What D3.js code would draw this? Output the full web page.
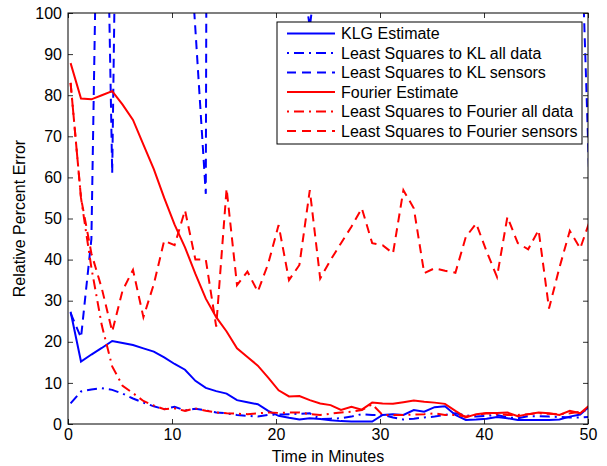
<!DOCTYPE html>
<html>
<head>
<meta charset="utf-8">
<script src="https://cdn.jsdelivr.net/npm/d3@7"></script>
<style>
  body { margin: 0; background: #fff; }
  text { font-family: "Liberation Sans", Arial, sans-serif; }
</style>
</head>
<body>
<div id="canvas"></div>
<script>
"use strict"
let svgWidth = 607;
let svgHeight = 466;

let marginLeft = 68;
let marginRight = 17;
let marginTop = 13;
let marginBottom = 42;

let fontSize = 16;

// sample times (minutes)
let times = [0.25, 1.25, 2.25, 3.25, 4.25, 5.25, 6.25, 7.25, 8.25, 9.25,
    10.25, 11.25, 12.25, 13.25, 14.25, 15.25, 16.25, 17.25, 18.25, 19.25,
    20.25, 21.25, 22.25, 23.25, 24.25, 25.25, 26.25, 27.25, 28.25, 29.25,
    30.25, 31.25, 32.25, 33.25, 34.25, 35.25, 36.25, 37.25, 38.25, 39.25,
    40.25, 41.25, 42.25, 43.25, 44.25, 45.25, 46.25, 47.25, 48.25, 49.25, 50.25];

let klgEstimate = [27.3, 15.2, 16.9, 18.5, 20.2, 19.7, 19.2, 18.4, 17.6, 16.2,
    14.6, 13.2, 10.5, 8.8, 8.0, 7.4, 5.8, 5.3, 4.8, 3.2,
    2.0, 1.5, 1.1, 1.4, 1.2, 0.9, 0.7, 0.6, 0.6, 0.6,
    2.2, 2.4, 2.2, 3.4, 3.0, 4.1, 4.3, 2.2, 1.0, 1.1,
    1.3, 1.7, 1.4, 1.0, 1.0, 1.0, 1.0, 1.1, 1.8, 2.3, 4.5];

let lsKLAll = [5.0, 7.9, 8.4, 8.7, 8.3, 7.4, 6.2, 5.2, 4.3, 3.6,
    4.2, 3.3, 3.7, 3.3, 2.8, 2.6, 2.2, 2.0, 1.8, 2.2,
    2.3, 2.4, 2.5, 2.6, 1.2, 1.3, 1.4, 1.8, 2.4, 2.2,
    2.2, 1.6, 1.1, 1.3, 1.6, 1.8, 2.2, 2.6, 2.1, 1.8,
    2.0, 2.2, 1.6, 1.4, 1.9, 1.9, 1.8, 1.7, 1.6, 1.6, 1.7];

let lsKLSensors = [27.0, 21.0, 45.0, 200, 61.0, 250, 400, 350, 300, 280,
    200, 135, 96.0, 56.0, 1000, 400, 300, 250, 200, 180,
    160, 140, 115, 96.5, 118, 160, 200, 250, 220, 200,
    180, 220, 250, 300, 260, 240, 220, 200, 210, 230,
    250, 240, 220, 200, 190, 180, 170, 160, 150, 128, 50.0];

let fourierEstimate = [87.8, 79.2, 79.0, 80.0, 81.0, 77.7, 74.0, 68.0, 62.0, 55.0,
    48.5, 43.0, 36.5, 30.5, 26.0, 22.5, 18.4, 16.3, 14.2, 11.3,
    8.2, 6.7, 6.8, 5.8, 5.0, 4.6, 3.4, 4.2, 3.5, 5.2,
    5.0, 4.9, 5.3, 5.7, 5.4, 5.2, 4.9, 3.2, 1.6, 2.4,
    2.7, 2.7, 2.8, 1.9, 2.4, 2.8, 2.6, 2.2, 3.2, 2.6, 4.8];

let lsFourierAll = [83.0, 55.0, 38.0, 24.0, 14.0, 9.3, 7.5, 5.6, 4.5, 3.6,
    3.8, 3.2, 3.8, 3.2, 2.8, 2.6, 2.5, 2.4, 2.6, 2.8,
    2.7, 2.8, 2.8, 2.4, 2.2, 2.5, 2.8, 3.0, 3.4, 4.8,
    2.2, 2.2, 2.2, 2.3, 2.4, 2.6, 2.2, 2.2, 1.8, 2.2,
    2.6, 2.4, 2.2, 2.2, 2.4, 2.6, 2.5, 2.4, 2.6, 3.0, 3.5];

let lsFourierSensors = [83.0, 55.0, 41.5, 33.0, 22.5, 32.5, 37.5, 26.0, 34.0, 44.6,
    43.5, 52.0, 40.0, 40.0, 23.7, 57.3, 33.8, 37.1, 32.2, 39.0,
    48.4, 35.0, 38.7, 56.9, 35.4, 39.9, 44.0, 48.0, 52.5, 44.0,
    43.5, 41.5, 56.9, 52.5, 36.7, 37.9, 37.3, 36.8, 45.5, 48.8,
    42.0, 35.8, 50.4, 44.0, 42.5, 47.2, 28.1, 38.0, 47.0, 42.7, 50.0];

let xTicks = [0, 10, 20, 30, 40, 50];
let yTicks = [0, 10, 20, 30, 40, 50, 60, 70, 80, 90, 100];

let seriesNames = ["KLG Estimate", "Least Squares to KL all data", "Least Squares to KL sensors",
    "Fourier Estimate", "Least Squares to Fourier all data", "Least Squares to Fourier sensors"];
let seriesValues = [klgEstimate, lsKLAll, lsKLSensors, fourierEstimate, lsFourierAll, lsFourierSensors];
let seriesColors = ["#0000ff", "#0000ff", "#0000ff", "#ff0000", "#ff0000", "#ff0000"];
let seriesDashes = [null, "10,5,2,5", "9,6", null, "10,5,2,5", "9,6"];

let svg = d3.select("#canvas")
    .append("svg")
    .attr("width", svgWidth)
    .attr("height", svgHeight);

let plotRight = svgWidth - marginRight - 2;
let plotBottom = svgHeight - marginBottom;

let xScale = d3.scaleLinear()
    .domain([0, 50])
    .range([marginLeft, plotRight]);
let yScale = d3.scaleLinear()
    .domain([0, 100])
    .range([plotBottom, marginTop]);

// clip lines to the axes box, like matlab does
svg.append("clipPath")
    .attr("id", "plotClip")
    .append("rect")
    .attr("x", marginLeft)
    .attr("y", marginTop)
    .attr("width", plotRight - marginLeft)
    .attr("height", plotBottom - marginTop);

let lineGen = d3.line()
    .x(function(d) { return xScale(d.t); })
    .y(function(d) { return yScale(d.v); });

let lineGroup = svg.append("g").attr("clip-path", "url(#plotClip)");

for (let i = 0; i < seriesValues.length; i++) {
    let pts = times.map(function(t, j) { return {t: t, v: seriesValues[i][j]}; });
    lineGroup.append("path")
        .datum(pts)
        .attr("d", lineGen)
        .attr("fill", "none")
        .attr("stroke", seriesColors[i])
        .attr("stroke-width", 2)
        .attr("stroke-dasharray", seriesDashes[i]);
}

// axes with inward ticks
let xAxis = svg.append("g")
    .attr("transform", "translate(0," + plotBottom + ")")
    .call(d3.axisBottom(xScale).tickValues(xTicks).tickSize(-5).tickPadding(5));
let xAxisTop = svg.append("g")
    .attr("transform", "translate(0," + marginTop + ")")
    .call(d3.axisTop(xScale).tickValues(xTicks).tickSize(-5).tickFormat(""));
let yAxis = svg.append("g")
    .attr("transform", "translate(" + marginLeft + ",0)")
    .call(d3.axisLeft(yScale).tickValues(yTicks).tickSize(-5).tickPadding(6));
let yAxisRight = svg.append("g")
    .attr("transform", "translate(" + plotRight + ",0)")
    .call(d3.axisRight(yScale).tickValues(yTicks).tickSize(-5).tickFormat(""));

svg.selectAll(".domain").remove();
svg.selectAll(".tick line").attr("stroke", "#333");
svg.selectAll(".tick text")
    .attr("font-size", fontSize)
    .attr("font-family", "Liberation Sans, Arial, sans-serif")
    .attr("fill", "#000");

// box around the plot
svg.append("rect")
    .attr("x", marginLeft)
    .attr("y", marginTop)
    .attr("width", plotRight - marginLeft)
    .attr("height", plotBottom - marginTop)
    .attr("fill", "none")
    .attr("stroke", "black")
    .attr("stroke-width", 1);

// axis labels
svg.append("text")
    .attr("x", (marginLeft + plotRight) / 2)
    .attr("y", svgHeight - 4)
    .attr("text-anchor", "middle")
    .attr("font-size", fontSize)
    .text("Time in Minutes");

svg.append("text")
    .attr("transform", "rotate(-90)")
    .attr("x", -(marginTop + plotBottom) / 2)
    .attr("y", 25)
    .attr("text-anchor", "middle")
    .attr("font-size", fontSize)
    .text("Relative Percent Error");

// legend
let legendX = 277;
let legendY = 22;
svg.append("rect")
    .attr("x", legendX)
    .attr("y", legendY)
    .attr("width", 305)
    .attr("height", 122)
    .attr("fill", "white")
    .attr("stroke", "black")
    .attr("stroke-width", 1);

for (let i = 0; i < seriesNames.length; i++) {
    let yPosition = legendY + 11.5 + i * 19.5;
    // dash-dot samples start with the dot, as in the original legend
    let dashOffset = seriesDashes[i] == "10,5,2,5" ? 15 : 0;
    svg.append("line")
        .attr("x1", legendX + 10)
        .attr("x2", legendX + 58)
        .attr("y1", yPosition)
        .attr("y2", yPosition)
        .attr("stroke", seriesColors[i])
        .attr("stroke-width", 2)
        .attr("stroke-dasharray", seriesDashes[i])
        .attr("stroke-dashoffset", dashOffset);
    svg.append("text")
        .attr("x", legendX + 64)
        .attr("y", yPosition)
        .attr("dominant-baseline", "central")
        .attr("font-size", fontSize)
        .text(seriesNames[i]);
}
</script>
</body>
</html>
